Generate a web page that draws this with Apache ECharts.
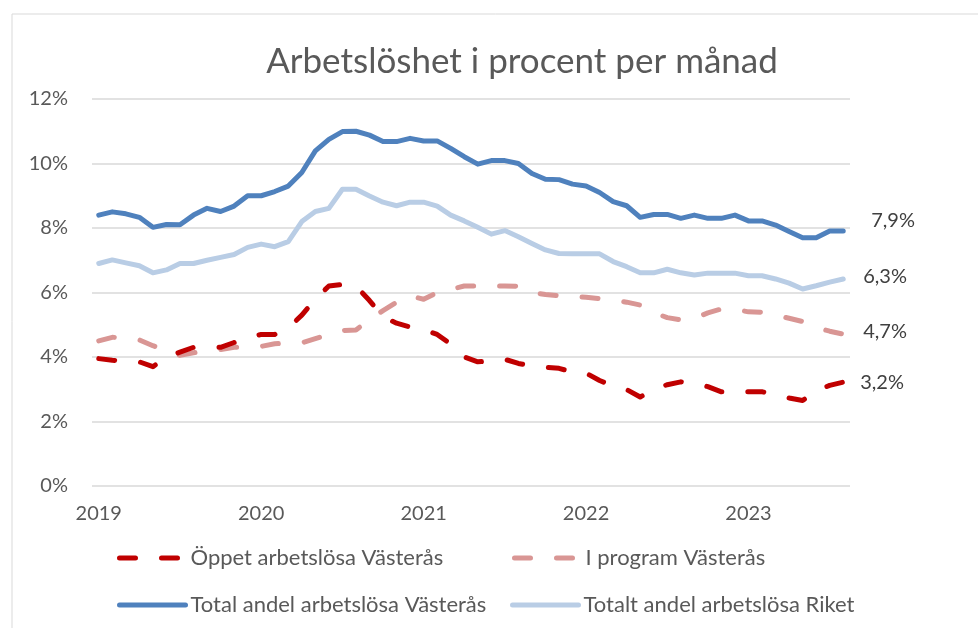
<!DOCTYPE html>
<html>
<head>
<meta charset="utf-8">
<script src="https://cdn.jsdelivr.net/npm/echarts@6/dist/echarts.min.js"></script>
<style>
html,body{margin:0;padding:0;background:#fff;}
#chart{width:978px;height:628px;}
</style>
</head>
<body>
<div id="chart"></div>
<script>
const categories = [
  '2019-01','2019-02','2019-03','2019-04','2019-05','2019-06','2019-07','2019-08','2019-09','2019-10','2019-11','2019-12',
  '2020-01','2020-02','2020-03','2020-04','2020-05','2020-06','2020-07','2020-08','2020-09','2020-10','2020-11','2020-12',
  '2021-01','2021-02','2021-03','2021-04','2021-05','2021-06','2021-07','2021-08','2021-09','2021-10','2021-11','2021-12',
  '2022-01','2022-02','2022-03','2022-04','2022-05','2022-06','2022-07','2022-08','2022-09','2022-10','2022-11','2022-12',
  '2023-01','2023-02','2023-03','2023-04','2023-05','2023-06','2023-07','2023-08'
];
const yearLabels = ['2019','2020','2021','2022','2023'];
const yTicks = [0, 2, 4, 6, 8, 10, 12];

const seriesNames = [
  'Öppet arbetslösa Västerås',
  'I program Västerås',
  'Total andel arbetslösa Västerås',
  'Totalt andel arbetslösa Riket'
];

const oppet = [
  3.95, 3.9, 3.87, 3.85, 3.7, 4.0, 4.15, 4.3, 4.3, 4.3, 4.45, 4.6,
  4.7, 4.7, 4.9, 5.3, 5.8, 6.2, 6.25, 6.2, 5.75, 5.25, 5.05, 4.93,
  4.85, 4.7, 4.4, 4.0, 3.85, 3.88, 3.93, 3.8, 3.72, 3.68, 3.65, 3.53,
  3.5, 3.27, 3.1, 2.99, 2.76, 3.0, 3.14, 3.23, 3.2, 3.08, 2.92, 2.92,
  2.92, 2.92, 2.85, 2.73, 2.65, 2.95, 3.12, 3.22
];
const iProgram = [
  4.5, 4.61, 4.6, 4.53, 4.35, 4.2, 4.05, 4.13, 4.19, 4.23, 4.3, 4.3,
  4.33, 4.41, 4.43, 4.44, 4.57, 4.7, 4.82, 4.84, 5.16, 5.44, 5.7, 5.9,
  5.79, 6.0, 6.1, 6.2, 6.2, 6.2, 6.2, 6.19, 6.0, 5.94, 5.9, 5.88,
  5.85, 5.81, 5.77, 5.7, 5.61, 5.38, 5.22, 5.15, 5.2, 5.37, 5.49, 5.48,
  5.4, 5.39, 5.3, 5.2, 5.1, 4.92, 4.8, 4.71
];
const totalVasteras = [
  8.4, 8.5, 8.44, 8.33, 8.02, 8.11, 8.1, 8.4, 8.61, 8.51, 8.68, 9.0,
  9.0, 9.13, 9.3, 9.72, 10.39, 10.75, 10.99, 11.0, 10.88, 10.68, 10.68, 10.78,
  10.7, 10.7, 10.47, 10.21, 9.98, 10.09, 10.09, 10.0, 9.69, 9.51, 9.5, 9.36,
  9.3, 9.1, 8.82, 8.69, 8.33, 8.42, 8.42, 8.3, 8.4, 8.3, 8.3, 8.4,
  8.22, 8.22, 8.09, 7.89, 7.7, 7.7, 7.91, 7.91
];
const totalRiket = [
  6.9, 7.01, 6.92, 6.83, 6.61, 6.7, 6.9, 6.9, 7.0, 7.09, 7.18, 7.4,
  7.5, 7.42, 7.58, 8.2, 8.51, 8.61, 9.2, 9.2, 8.99, 8.8, 8.69, 8.8,
  8.8, 8.68, 8.4, 8.22, 8.02, 7.81, 7.92, 7.73, 7.52, 7.32, 7.21, 7.2,
  7.2, 7.2, 6.96, 6.8, 6.61, 6.61, 6.72, 6.61, 6.54, 6.6, 6.6, 6.6,
  6.52, 6.52, 6.42, 6.29, 6.11, 6.21, 6.32, 6.42
];
const endLabels = ['3,2%', '4,7%', '7,9%', '6,3%'];

const FONT = 'Lato';
const colors = ['#C00000', '#D99694', '#4F81BD', '#B9CDE5'];
const values = [oppet, iProgram, totalVasteras, totalRiket];
const dashed = [true, true, false, false];
const endOffsets = [[9, 0], [12, -3], [20, -10], [12, -2]];

const chart = echarts.init(document.getElementById('chart'), null, {renderer: 'canvas'});

const series = values.map((v, k) => ({
  name: seriesNames[k],
  type: 'line',
  data: v,
  symbol: 'none',
  smooth: false,
  z: [3, 2, 5, 4][k],
  lineStyle: {
    color: colors[k],
    width: 5,
    type: dashed[k] ? [16, 26] : 'solid',
    cap: 'round',
    join: 'round'
  },
  itemStyle: {color: colors[k]},
  endLabel: {
    show: true,
    formatter: endLabels[k],
    color: '#404040',
    fontFamily: FONT,
    fontSize: 20,
    offset: endOffsets[k]
  }
}));

const legendPos = [
  {left: 117, top: 547, w: 60},
  {left: 512, top: 547, w: 60},
  {left: 117, top: 594, w: 66},
  {left: 510, top: 594, w: 66}
];

const legends = seriesNames.map((n, k) => ({
  data: [n],
  left: legendPos[k].left,
  top: legendPos[k].top,
  padding: 0,
  itemWidth: legendPos[k].w,
  itemHeight: 20,
  itemStyle: {opacity: 0},
  lineStyle: {
    width: 5,
    type: dashed[k] ? [16, 26] : 'solid',
    cap: 'round'
  },
  textStyle: {
    color: '#595959',
    fontFamily: FONT,
    fontSize: 22,
    padding: [0, 0, 0, dashed[k] ? 6 : 0]
  },
  selectedMode: false
}));

chart.setOption({
  animation: false,
  backgroundColor: '#ffffff',
  graphic: [{
    type: 'rect',
    shape: {x: 12, y: 14, width: 1200, height: 900},
    style: {fill: 'none', stroke: '#D9D9D9', lineWidth: 1},
    silent: true,
    z: -10
  }],
  title: {
    text: 'Arbetslöshet i procent per månad',
    left: 517,
    textAlign: 'center',
    top: 39,
    textStyle: {
      color: '#595959',
      fontFamily: FONT,
      fontSize: 35,
      fontWeight: 'normal'
    }
  },
  legend: legends,
  grid: {left: 92, right: 128, top: 99, bottom: 142, containLabel: false},
  xAxis: {
    type: 'category',
    data: categories,
    boundaryGap: true,
    axisLine: {show: false},
    axisTick: {show: false},
    splitLine: {show: false},
    axisLabel: {
      interval: (idx) => idx % 12 === 0,
      formatter: (val, idx) => yearLabels[Math.floor(idx / 12)],
      color: '#595959',
      fontFamily: FONT,
      fontSize: 20,
      margin: 18
    }
  },
  yAxis: {
    type: 'value',
    min: yTicks[0],
    max: yTicks[yTicks.length - 1],
    interval: 2,
    axisLine: {show: false},
    axisTick: {show: false},
    splitLine: {lineStyle: {color: '#D9D9D9', width: 1.5}},
    axisLabel: {
      formatter: '{value}%',
      color: '#595959',
      fontFamily: FONT,
      fontSize: 20,
      margin: 24
    }
  },
  series: series
});
</script>
</body>
</html>
